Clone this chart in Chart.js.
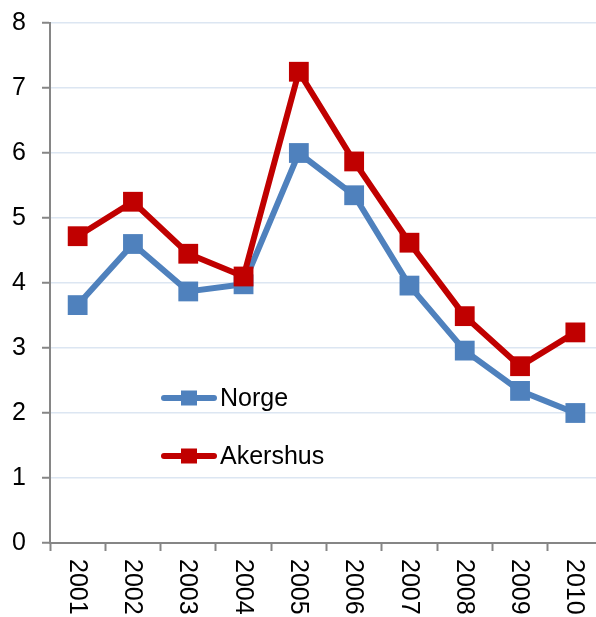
<!DOCTYPE html>
<html>
<head>
<meta charset="utf-8">
<script src="https://cdn.jsdelivr.net/npm/chart.js@4/dist/chart.umd.min.js"></script>
<style>
  html, body { margin: 0; padding: 0; background: #fff; overflow: hidden; }
  #lineChart { display: block; }
</style>
</head>
<body>
<canvas id="lineChart" width="606" height="617"></canvas>
<script>
// Årstall og verdier
const years = ["2001", "2002", "2003", "2004", "2005", "2006", "2007", "2008", "2009", "2010"];
const norge = [3.66, 4.6, 3.87, 3.98, 6.0, 5.35, 3.96, 2.96, 2.34, 2.0];
const akershus = [4.72, 5.25, 4.45, 4.1, 7.25, 5.87, 4.62, 3.49, 2.72, 3.24];
const yTicks = [0, 1, 2, 3, 4, 5, 6, 7, 8];

const FONT = "'Liberation Sans', Arial, sans-serif";
const BLUE = "#4F81BD";
const RED = "#C00000";
const AXIS = "#868686";

// Årstallene skrives loddrett, lest ovenfra og ned
const verticalYears = {
    id: "verticalYears",
    afterDraw(chart) {
        const ctx = chart.ctx;
        const xs = chart.scales.x;
        ctx.save();
        ctx.fillStyle = "#000";
        ctx.font = "25px " + FONT;
        ctx.textAlign = "left";
        ctx.textBaseline = "middle";
        years.forEach((y, i) => {
            ctx.save();
            ctx.translate(xs.getPixelForValue(i) - 1, xs.top + 16);
            ctx.rotate(Math.PI / 2);
            ctx.fillText(y, 0, 0);
            ctx.restore();
        });
        ctx.restore();
    }
};

// Forklaring inne i plottet
const innerLegend = {
    id: "innerLegend",
    afterDraw(chart) {
        const ctx = chart.ctx;
        const rows = [
            { ds: chart.data.datasets[0], y: 398 },
            { ds: chart.data.datasets[1], y: 456 }
        ];
        ctx.save();
        rows.forEach(r => {
            ctx.strokeStyle = r.ds.borderColor;
            ctx.lineWidth = 6;
            ctx.lineCap = "round";
            ctx.beginPath();
            ctx.moveTo(164, r.y);
            ctx.lineTo(214, r.y);
            ctx.stroke();
            ctx.fillStyle = r.ds.borderColor;
            ctx.fillRect(181, r.y - 7.5, 16, 15);
            ctx.fillStyle = "#000";
            ctx.font = "25px " + FONT;
            ctx.textAlign = "left";
            ctx.textBaseline = "middle";
            ctx.fillText(r.ds.label, 220, r.y + 1);
        });
        ctx.restore();
    }
};

new Chart(document.getElementById("lineChart"), {
    type: "line",
    data: {
        labels: years,
        datasets: [
            {
                label: "Norge",
                data: norge,
                borderColor: BLUE,
                backgroundColor: BLUE,
                borderWidth: 6,
                pointStyle: "rect",
                pointRadius: 14,
                pointBorderWidth: 0,
                tension: 0,
                order: 1
            },
            {
                label: "Akershus",
                data: akershus,
                borderColor: RED,
                backgroundColor: RED,
                borderWidth: 6,
                pointStyle: "rect",
                pointRadius: 14,
                pointBorderWidth: 0,
                tension: 0,
                order: 0
            }
        ]
    },
    options: {
        responsive: false,
        animation: false,
        layout: { autoPadding: false, padding: { top: 23, right: 3, bottom: 0, left: 0 } },
        plugins: { legend: { display: false }, tooltip: { enabled: false } },
        scales: {
            x: {
                offset: true,
                grid: {
                    offset: true,
                    drawOnChartArea: false,
                    tickLength: 8,
                    tickColor: AXIS,
                    tickWidth: 2
                },
                border: { color: AXIS, width: 2 },
                ticks: { display: false },
                afterFit(scale) { scale.height = 74; }
            },
            y: {
                min: 0,
                max: 8,
                afterBuildTicks(scale) { scale.ticks = yTicks.map(v => ({ value: v })); },
                grid: {
                    color: "#DCE6F2",
                    lineWidth: 1.5,
                    tickLength: 8,
                    tickColor: AXIS,
                    tickWidth: 2
                },
                border: { color: AXIS, width: 2 },
                ticks: {
                    color: "#000",
                    padding: 16,
                    font: { family: FONT, size: 25, lineHeight: 0.4 }
                },
                afterFit(scale) { scale.width = 50; }
            }
        }
    },
    plugins: [verticalYears, innerLegend]
});
</script>
</body>
</html>
